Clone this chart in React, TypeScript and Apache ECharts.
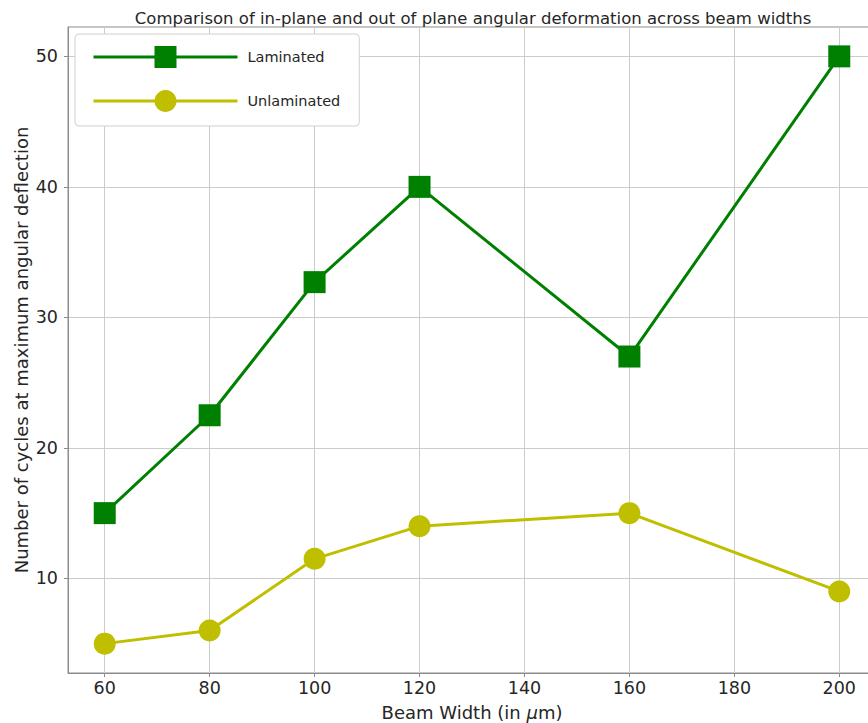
import React, { useEffect, useRef } from "react";
import * as echarts from "echarts";

// Beam widths (µm) and cycle counts for the two sample types
const beamWidths: number[] = [60, 80, 100, 120, 160, 200];
const laminated: number[] = [15, 22.5, 32.7, 40, 27, 50];
const unlaminated: number[] = [5, 6, 11.5, 14, 15, 9];

const xTicks: number[] = [60, 80, 100, 120, 140, 160, 180, 200];
const yTicks: number[] = [10, 20, 30, 40, 50];

const TEXT = "#262626";
const FONT = "DejaVu Sans";

export default function App() {
  const ref = useRef<HTMLDivElement>(null);

  useEffect(() => {
    if (!ref.current) return;
    const chart = echarts.init(ref.current, undefined, { renderer: "svg" });

    const pairs = (ys: number[]) => beamWidths.map((x, i) => [x, ys[i]]);

    chart.setOption({
      animation: false,
      backgroundColor: "#ffffff",
      textStyle: { fontFamily: FONT, color: TEXT },
      title: {
        text: "Comparison of in-plane and out of plane angular deformation across beam widths",
        left: 468,
        textAlign: "center",
        top: 5,
        textStyle: { fontFamily: FONT, fontSize: 16.5, fontWeight: "normal", color: TEXT },
      },
      grid: {
        left: 68,
        top: 27,
        right: -8,
        bottom: 50,
        outerBoundsMode: "none",
        containLabel: false,
        show: true,
        borderColor: "#8c8c8c",
        borderWidth: 1,
        backgroundColor: "transparent",
      },
      legend: {
        left: 75,
        top: 34,
        orient: "vertical",
        itemWidth: 144,
        itemHeight: 27.5,
        itemGap: 22,
        padding: [12, 19, 14, 17],
        backgroundColor: "#ffffff",
        borderColor: "#d0d0d0",
        borderWidth: 1,
        borderRadius: 4,
        lineStyle: { width: 3 },
        textStyle: { fontFamily: FONT, fontSize: 14.5, color: TEXT, padding: [0, 0, 0, 5] },
        data: ["Laminated", "Unlaminated"],
      },
      xAxis: {
        type: "value",
        min: 53,
        max: 207,
        name: "Beam Width (in {i|μ}m)",
        nameLocation: "middle",
        nameGap: 30,
        nameMoveOverlap: false,
        nameTextStyle: {
          fontFamily: FONT,
          fontSize: 18,
          color: TEXT,
          rich: { i: { fontFamily: FONT, fontSize: 18, fontStyle: "italic", color: TEXT } },
        },
        axisLine: { show: true, lineStyle: { color: "#8c8c8c", width: 1 } },
        axisTick: { show: true, length: 4, customValues: xTicks, lineStyle: { color: "#8c8c8c" } },
        axisLabel: { customValues: xTicks, fontFamily: FONT, fontSize: 17.5, color: TEXT, margin: 6 },
        splitLine: { show: true, lineStyle: { color: "#cccccc", width: 1 } },
      },
      yAxis: {
        type: "value",
        min: 2.75,
        max: 52.25,
        name: "Number of cycles at maximum angular deflection",
        nameLocation: "middle",
        nameGap: 38,
        nameMoveOverlap: false,
        nameTextStyle: { fontFamily: FONT, fontSize: 18, color: TEXT },
        axisLine: { show: true, lineStyle: { color: "#8c8c8c", width: 1 } },
        axisTick: { show: true, length: 4, customValues: yTicks, lineStyle: { color: "#8c8c8c" } },
        axisLabel: { customValues: yTicks, fontFamily: FONT, fontSize: 17.5, color: TEXT, margin: 10 },
        splitLine: { show: true, lineStyle: { color: "#cccccc", width: 1 } },
      },
      series: [
        {
          name: "Laminated",
          type: "line",
          data: pairs(laminated),
          symbol: "rect",
          symbolSize: 22,
          lineStyle: { color: "#008000", width: 3 },
          itemStyle: { color: "#008000" },
          z: 3,
        },
        {
          name: "Unlaminated",
          type: "line",
          data: pairs(unlaminated),
          symbol: "circle",
          symbolSize: 22,
          lineStyle: { color: "#bfbf00", width: 3 },
          itemStyle: { color: "#bfbf00" },
          z: 3,
        },
      ],
    });

    return () => chart.dispose();
  }, []);

  return (
    <div
      ref={ref}
      style={{ position: "fixed", left: 0, top: 0, width: 868, height: 723 }}
    />
  );
}
